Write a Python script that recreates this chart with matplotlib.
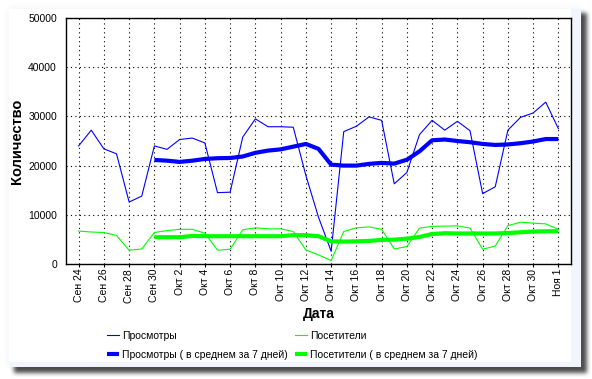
import numpy as np
import matplotlib
matplotlib.use('Agg')
import matplotlib.pyplot as plt
from matplotlib.patches import Rectangle
from matplotlib.lines import Line2D

# ---------------- data ----------------
tick_labels = ["Сен 24", "Сен 26", "Сен 28", "Сен 30", "Окт 2", "Окт 4", "Окт 6",
               "Окт 8", "Окт 10", "Окт 12", "Окт 14", "Окт 16", "Окт 18", "Окт 20",
               "Окт 22", "Окт 24", "Окт 26", "Окт 28", "Окт 30", "Ноя 1"]

# daily values, Sep 24 .. Nov 1
views = [24000, 27200, 23400, 22400, 12600, 13800, 24000,
         23300, 25300, 25600, 24600, 14500, 14600, 25800, 29500, 27900, 27900,
         27800, 18000, 9500, 2600, 26900, 28000, 29900, 29200, 16300, 18600,
         26300, 29200, 27200, 29000, 27100, 14300, 15700, 27200, 29800, 30700,
         32900, 27500]
visitors = [6700, 6500, 6400, 5800, 2800, 3050, 6400,
            6800, 7050, 7050, 6250, 2800, 3000, 6950, 7350, 7150, 7150,
            6600, 2850, 1850, 700, 6600, 7350, 7550, 7050, 3050, 3550,
            7300, 7650, 7700, 7750, 7300, 3000, 3650, 7800, 8500, 8300,
            8150, 7050]
# 7-day averages, Sep 30 .. Nov 1
views_avg = [21150, 21000, 20750, 21000, 21350, 21500, 21550, 21850, 22600,
             23050, 23300, 23850, 24400, 23400, 20200, 20000, 20000, 20350,
             20550, 20400, 21200, 22900, 25150, 25300, 25000, 24750, 24400,
             24200, 24300, 24550, 24900, 25400, 25400]
visitors_avg = [5450, 5450, 5450, 5700, 5650, 5650, 5650, 5650, 5650, 5650,
                5650, 5850, 5850, 5650, 4600, 4550, 4600, 4700, 4900, 4950,
                5150, 5500, 6100, 6250, 6200, 6200, 6200, 6200, 6300, 6450,
                6600, 6650, 6650]

series_names = ["Просмотры", "Просмотры ( в среднем за 7 дней)",
                "Посетители", "Посетители ( в среднем за 7 дней)"]

days = np.arange(len(views))
avg_days = np.arange(len(views) - len(views_avg), len(views))

W, H = 592, 379
FONT = ['Liberation Sans', 'DejaVu Sans']
plt.rcParams['font.family'] = FONT

fig = plt.figure(figsize=(W / 100, H / 100), dpi=100)
fig.patch.set_facecolor('white')

# ---------------- background panel with drop shadow ----------------
bg = fig.add_axes([0, 0, 1, 1], zorder=0)
bg.set_xlim(0, W)
bg.set_ylim(H, 0)
bg.axis('off')


def box_blur(a, r):
    k = np.ones(2 * r + 1) / (2 * r + 1)
    a = np.apply_along_axis(lambda m: np.convolve(m, k, mode='same'), 0, a)
    a = np.apply_along_axis(lambda m: np.convolve(m, k, mode='same'), 1, a)
    return a


shadow = np.zeros((H, W))
shadow[13:373, 14:587] = 1.0
shadow = box_blur(box_blur(shadow, 2), 2)
glow = np.zeros((H, W))
glow[9:367, 9:581] = 1.0
glow = box_blur(glow, 6)
alpha = np.clip(shadow * 0.85 + glow * 0.07, 0, 1)
rgba = np.zeros((H, W, 4))
rgba[..., 0:3] = 0.2
rgba[..., 3] = alpha
bg.imshow(rgba, extent=(0, W, H, 0), aspect='auto', interpolation='nearest')

bg.add_patch(Rectangle((9, 9), 572, 358, facecolor='white', edgecolor='none'))
bg.add_patch(Rectangle((571, 9), 10, 358, facecolor='#f3f5fc', edgecolor='none'))
bg.add_patch(Rectangle((9, 362), 572, 5, facecolor='#f3f5fc', edgecolor='none'))

# ---------------- main chart ----------------
L, R, T, B = 66, 571, 18, 264
ax = fig.add_axes([L / W, 1 - B / H, (R - L) / W, (B - T) / H], zorder=2)
ax.set_facecolor('white')

l1, = ax.plot(days, views, color='#0000ff', lw=0.8)
l2, = ax.plot(avg_days, views_avg, color='#0000ff', lw=3.0, solid_capstyle='butt')
l3, = ax.plot(days, visitors, color='#00ff00', lw=0.8)
l4, = ax.plot(avg_days, visitors_avg, color='#00ff00', lw=3.0, solid_capstyle='butt')

ax.set_xlim(-1, 39)
ax.set_ylim(0, 50000)
ax.set_xticks(np.arange(0, 39, 2))
ax.set_xticklabels(tick_labels, rotation=90, fontsize=7.5)
ax.set_yticks(np.arange(0, 50001, 10000))
ax.set_yticklabels([str(v) for v in range(0, 50001, 10000)], fontsize=7.5)
ax.tick_params(axis='x', length=2, pad=1.5, color='black')
ax.tick_params(axis='y', length=0, pad=6.5)
ax.grid(True, color='black', linestyle=(0, (1, 3)), linewidth=0.8)
ax.set_axisbelow(True)
for s in ax.spines.values():
    s.set_color('black')
    s.set_linewidth(1.0)

ax.set_xlabel("Дата", fontsize=10, fontweight='bold')
ax.xaxis.label.set_va('center')
ax.xaxis.set_label_coords(0.5, (B - 314) / (B - T))
ax.set_ylabel("Количество", fontsize=10.5, fontweight='bold')
ax.yaxis.label.set_va('center')
ax.yaxis.set_label_coords((17 - L) / (R - L), 0.5)

# ---------------- legend (two columns) ----------------
common = dict(frameon=False, fontsize=7.5, handlelength=1.15, handletextpad=0.3,
              labelspacing=0.85, borderpad=0, borderaxespad=0, loc='upper left')
leg1 = fig.legend([l1, l2], series_names[:2], bbox_to_anchor=(107 / W, 1 - 331 / H), **common)
leg2 = fig.legend([l3, l4], series_names[2:], bbox_to_anchor=(295 / W, 1 - 331 / H), **common)
for leg in (leg1, leg2):
    leg.set_zorder(3)

fig.savefig('out.png', dpi=100)
